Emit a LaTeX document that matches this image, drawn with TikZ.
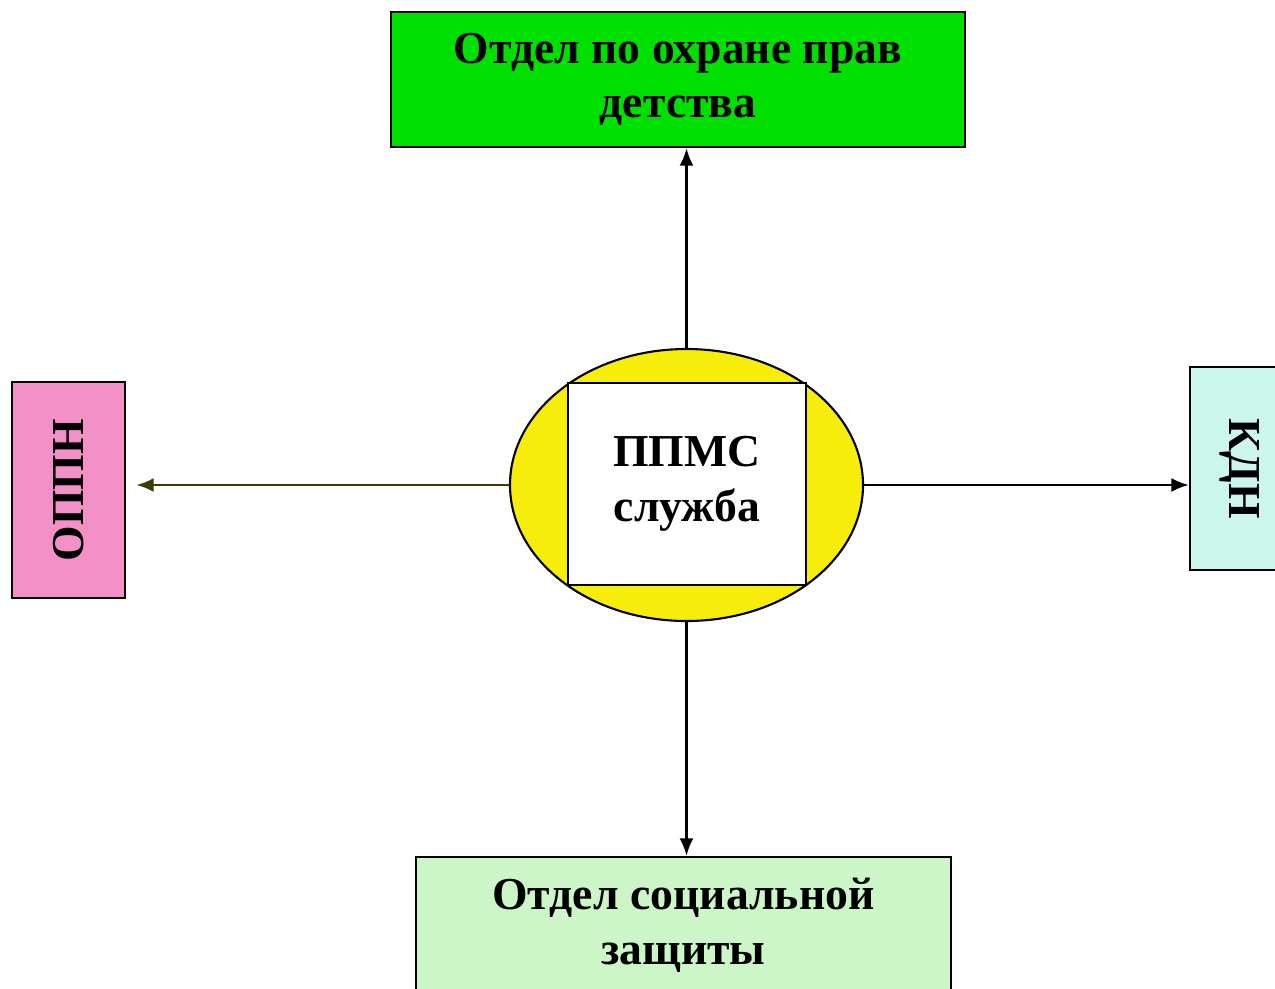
\documentclass[tikz,border=0pt]{standalone}
\usepackage{fontspec}
\setmainfont{Liberation Serif}
\usetikzlibrary{shapes.geometric,arrows.meta}

\definecolor{deptgreen}{RGB}{0,224,0}
\definecolor{oppnpink}{RGB}{243,144,200}
\definecolor{kdncyan}{RGB}{204,246,236}
\definecolor{socgreen}{RGB}{204,245,200}
\definecolor{ringyellow}{RGB}{246,238,10}
\definecolor{olive}{RGB}{60,60,0}

\begin{document}
\begin{tikzpicture}
        [
        align=center,
        font=\bfseries\fontsize{26}{31}\selectfont,
        unit/.style={rectangle, draw=black, line width=1.3pt, inner sep=0pt},
        ring/.style={ellipse, fill=ringyellow, draw=black, line width=1.2pt, inner sep=0pt},
        link/.style={-{Latex[length=10pt,width=8pt]}, line width=1.4pt},
        ]
                \useasboundingbox (0,0) rectangle (25.5,-19.76);

                % centre
                \node[ring] (ring) at      (13.73, -9.70) [minimum width=7.06cm, minimum height=5.44cm] {};
                \node[unit, fill=white] (ppms) at (13.74, -9.68) [minimum width=4.76cm, minimum height=4.04cm] {ППМС\\служба};

                % units
                \node[unit, fill=deptgreen] (deti) at (13.56, -1.59) [minimum width=11.48cm, minimum height=2.70cm] {Отдел по охране прав\\детства};
                \node[unit, fill=socgreen] (soc) at   (13.67, -18.50) [minimum width=10.70cm, minimum height=2.72cm] {Отдел социальной\\защиты};
                \node[unit, fill=oppnpink] (oppn) at  (1.37, -9.80) [minimum width=2.26cm, minimum height=4.32cm] {};
                \node[unit, fill=kdncyan] (kdn) at    (24.80, -9.37) [minimum width=2.00cm, minimum height=4.06cm] {};
                \node[rotate=90] at (oppn) {ОППН};
                \node[rotate=-90] at (kdn) {КДН};

                % drawing code
                \draw[link] (ring.north) -- (ring.north |- deti.south);
                \draw[link] (ring.south) -- (ring.south |- soc.north);
                \draw[link] (ring.east) -- (ring.east -| kdn.west);
                \draw[link, olive, line width=1.6pt, shorten >=0.2cm] (ring.west) -- (ring.west -| oppn.east);
        \end{tikzpicture}
\end{document}
